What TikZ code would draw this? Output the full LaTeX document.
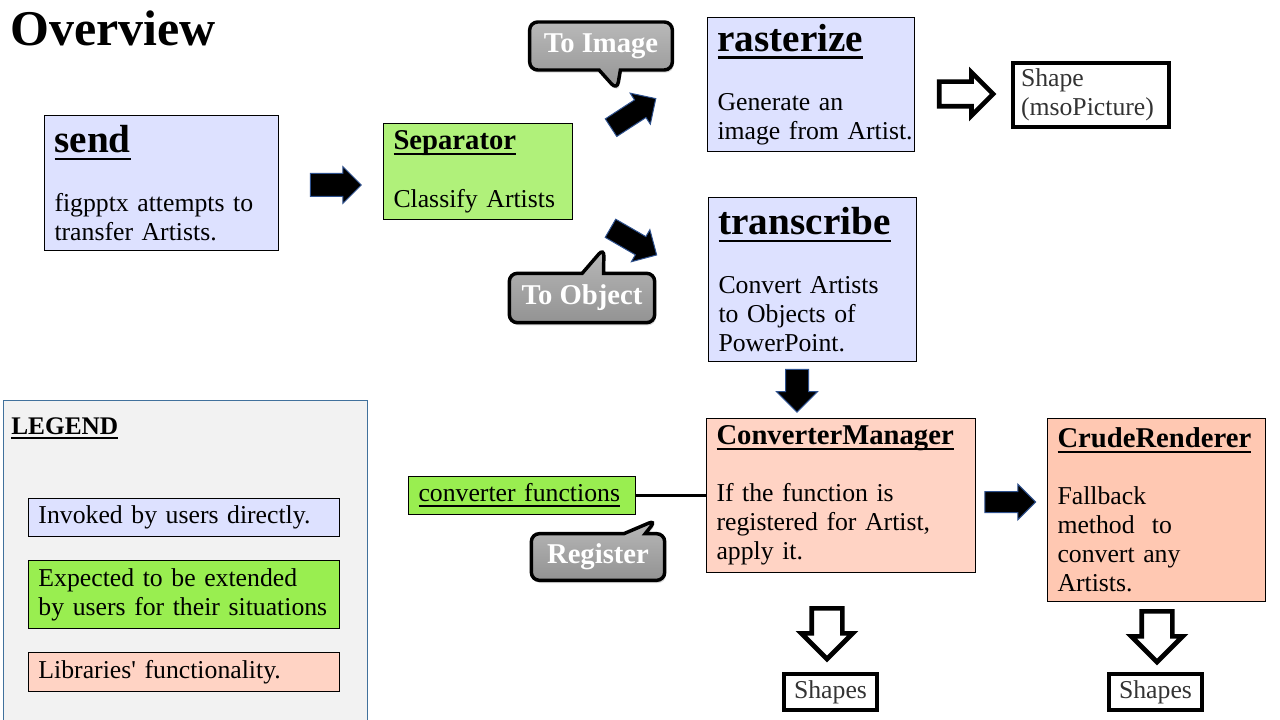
\documentclass[tikz,border=0pt]{standalone}
\usepackage{fontspec}
\setmainfont{Liberation Serif}
\usetikzlibrary{shapes.arrows,shapes.callouts,shadows}

\definecolor{userblue}{RGB}{221,225,255}
\definecolor{sepgreen}{RGB}{176,241,122}
\definecolor{extgreen}{RGB}{153,238,80}
\definecolor{libsalmon}{RGB}{255,211,196}
\definecolor{crudesalmon}{RGB}{255,200,178}
\definecolor{legendedge}{RGB}{65,113,156}
\definecolor{arrowedge}{RGB}{47,82,143}

\newcommand{\bodyf}{\fontsize{19.3}{21.75}\selectfont}
\newcommand{\headf}{\fontsize{29.4}{31}\selectfont\bfseries}
\newcommand{\subf}{\fontsize{21.5}{23}\selectfont\bfseries}
\newcommand{\callf}{\fontsize{21.5}{23}\selectfont\bfseries}
\newcommand{\ul}[1]{\sbox0{#1}\rlap{\rule[-0.2em]{\wd0}{0.07em}}\usebox0}

\begin{document}
\begin{tikzpicture}[x=0.75pt, y=-0.75pt]
    % Styles
    \tikzstyle{box} = [draw=black, line width=0.75pt, anchor=north west, align=left, inner xsep=7.5pt, inner ysep=4pt, font=\bodyf]
    \tikzstyle{outbox} = [draw=black, line width=3pt, font=\bodyf, text=black!80]
    \tikzstyle{callbox} = [rectangle callout, draw=black, line width=2.6pt, rounded corners=6pt, top color=gray!55, bottom color=gray!85, text=white, font=\callf, callout pointer width=16pt, drop shadow={shadow xshift=1pt, shadow yshift=-2pt, opacity=0.3}]
    \tikzstyle{blockarrow} = [single arrow, draw=arrowedge, line width=0.75pt, fill=black, inner xsep=0pt]
    \tikzstyle{hollowarrow} = [single arrow, draw=black, line width=3.5pt, fill=white, inner xsep=0pt]

    \useasboundingbox (0,0) rectangle (1280,720);

    % Title
    \node[anchor=base west, font=\fontsize{37.5}{40}\selectfont\bfseries, inner sep=0pt] (title) at (10,46) {Overview};

    % Legend
    \node[draw=legendedge, line width=0.75pt, fill=black!5, anchor=north west, minimum width=273pt, minimum height=247.5pt, inner sep=0pt] (legend) at (3,400) {};
    \node[anchor=base west, font=\fontsize{19}{20}\selectfont\bfseries, inner sep=0pt] (legtitle) at (11,434) {\ul{LEGEND}};
    \node[box, fill=userblue, text width=218.25pt, minimum height=28.5pt] (leguser) at (28,498) {Invoked by users directly.};
    \node[box, fill=extgreen, text width=218.25pt, minimum height=51pt] (legext) at (28,560) {Expected to be extended\\ \mbox{by users for their situations}};
    \node[box, fill=libsalmon, text width=218.25pt, minimum height=29.25pt] (leglib) at (28,652) {Libraries\textquotesingle{} functionality.};

    % Boxes
    \node[box, fill=userblue, text width=160.5pt, minimum height=101.25pt] (send) at (44,115) {{\headf\ul{send}}\\[22.5pt] figpptx attempts to\\ transfer Artists.};
    \node[box, fill=sepgreen, text width=126.75pt, minimum height=72pt] (sep) at (383,123) {{\subf\ul{Separator}}\\[21.75pt] Classify Artists};
    \node[box, fill=userblue, text width=140.25pt, minimum height=100.5pt] (raster) at (707,17) {{\headf\ul{rasterize}}\\[22.5pt] Generate an\\ \mbox{image from Artist.}};
    \node[box, fill=userblue, text width=141pt, minimum height=123pt] (transcr) at (708,197) {{\headf\ul{transcribe}}\\[22.5pt] Convert Artists\\ to Objects of\\ PowerPoint.};
    \node[box, fill=libsalmon, text width=186.75pt, minimum height=115.5pt] (cm) at (706,418) {{\subf\ul{ConverterManager}}\\[21pt] If the function is\\ \mbox{registered for Artist,}\\ apply it.};
    \node[box, fill=crudesalmon, text width=148.5pt, minimum height=137.25pt] (crude) at (1047,418) {{\subf\ul{CrudeRenderer}}\\[21pt] Fallback\\ method~ to\\ convert any\\ Artists.};
    \node[box, fill=extgreen, text width=155.25pt, minimum height=28.5pt] (cfun) at (408,476) {\ul{converter functions}};

    % Outputs
    \node[outbox, align=left, text width=105pt, minimum height=48pt, inner xsep=6pt] (shape) at (1091,95) {Shape\\(msoPicture)};
    \node[outbox, minimum width=70pt, minimum height=27pt, inner sep=2pt] (shapes1) at (830.5,692) {Shapes};
    \node[outbox, minimum width=70pt, minimum height=27pt, inner sep=2pt] (shapes2) at (1155.5,692) {Shapes};

    % Arrows
    \node[blockarrow, inner ysep=8.25pt, minimum height=38.25pt, minimum width=27pt, single arrow head extend=5.25pt] (a1) at (330,185) {};
    \node[blockarrow, rotate=33, inner ysep=7.5pt, minimum height=40pt, minimum width=27pt, single arrow head extend=6pt] (a2) at (629,116) {};
    \node[blockarrow, rotate=-30, inner ysep=7.5pt, minimum height=40pt, minimum width=27pt, single arrow head extend=6pt] (a3) at (629,239) {};
    \node[blockarrow, rotate=-90, inner ysep=8.25pt, minimum height=32pt, minimum width=30pt, single arrow head extend=6.75pt] (a4) at (797,385) {};
    \node[blockarrow, inner ysep=7.5pt, minimum height=38pt, minimum width=26pt, single arrow head extend=5.5pt] (a5) at (1005,502) {};
    \node[hollowarrow, inner ysep=7.5pt, minimum height=40.5pt, minimum width=29pt, single arrow head extend=7pt] (h1) at (960,94) {};
    \node[hollowarrow, rotate=-90, inner ysep=9.75pt, minimum height=38pt, minimum width=35pt, single arrow head extend=7.75pt] (h2) at (827,626) {};
    \node[hollowarrow, rotate=-90, inner ysep=9.75pt, minimum height=38pt, minimum width=35pt, single arrow head extend=7.75pt] (h3) at (1157,629) {};

    \draw[line width=2.25pt] (cfun) -- (cm);

    % Callouts
    \node[callbox, minimum width=107pt, minimum height=36pt, callout absolute pointer={(617,90)}] (toimg) at (601,46) {To Image};
    \node[callbox, minimum width=109pt, minimum height=37pt, callout absolute pointer={(604,248)}] (toobj) at (582,298) {To Object};
    \node[callbox, minimum width=100pt, minimum height=35pt, callout absolute pointer={(656,520)}] (reg) at (598,557) {Register};
\end{tikzpicture}
\end{document}
